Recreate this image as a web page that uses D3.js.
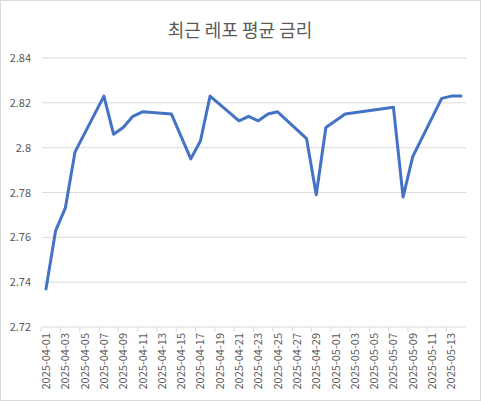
<!DOCTYPE html>
<html><head><meta charset="utf-8">
<script src="https://cdn.jsdelivr.net/npm/d3@7"></script>
<style>body{margin:0;background:#fff}text{font-family:"Noto Sans CJK KR","Liberation Sans",sans-serif}</style>
</head><body><div id="chart"></div>
<script>
const dates = ["2025-04-01","2025-04-02","2025-04-03","2025-04-04","2025-04-07","2025-04-08","2025-04-09","2025-04-10","2025-04-11","2025-04-14","2025-04-16","2025-04-17","2025-04-18","2025-04-21","2025-04-22","2025-04-23","2025-04-24","2025-04-25","2025-04-28","2025-04-29","2025-04-30","2025-05-02","2025-05-07","2025-05-08","2025-05-09","2025-05-12","2025-05-13","2025-05-14"];
const rates = [2.737,2.763,2.773,2.798,2.823,2.806,2.809,2.814,2.816,2.815,2.795,2.803,2.823,2.812,2.814,2.812,2.815,2.816,2.804,2.779,2.809,2.815,2.818,2.778,2.796,2.822,2.823,2.823];
const yTicks = [2.72,2.74,2.76,2.78,2.8,2.82,2.84];

const W = 481, H = 401;
const parse = d3.utcParse("%Y-%m-%d");
const fmt = d3.utcFormat("%Y-%m-%d");
const svg = d3.select("#chart").append("svg").attr("width", W).attr("height", H);
svg.append("rect").attr("x",0.5).attr("y",0.5).attr("width",W-1).attr("height",H-1).attr("fill","#fff").attr("stroke","#d9d9d9");

const x = d3.scaleUtc().domain([parse("2025-04-01"), parse("2025-05-14")]).range([46, 461]);
const y = d3.scaleLinear().domain([2.72, 2.84]).range([327, 58]);

svg.append("text").attr("x", 240).attr("y", 37).attr("text-anchor","middle")
  .attr("font-size", 18).attr("fill","#595959").text("최근 레포 평균 금리");

svg.append("g").selectAll("line").data(yTicks.slice(1)).join("line")
  .attr("x1", 42).attr("x2", 466).attr("y1", d => y(d)).attr("y2", d => y(d))
  .attr("stroke", "#d9d9d9");

svg.append("g").selectAll("text").data(yTicks).join("text")
  .attr("x", 31).attr("y", d => y(d) + 4).attr("text-anchor","end")
  .attr("font-size", 11).attr("fill","#595959").text(d => d3.format(".2~f")(d));

const labelDays = d3.utcDay.range(parse("2025-04-01"), parse("2025-05-15"), 2);
const day = x(parse("2025-04-02")) - x(parse("2025-04-01"));
svg.append("line").attr("x1", 42).attr("x2", 466).attr("y1", 327).attr("y2", 327).attr("stroke","#d9d9d9");
svg.append("g").selectAll("line").data(labelDays).join("line")
  .attr("x1", d => x(d) - day/2).attr("x2", d => x(d) - day/2)
  .attr("y1", 327).attr("y2", 332).attr("stroke","#d9d9d9");
svg.append("g").selectAll("text").data(labelDays).join("text")
  .attr("transform", d => `translate(${x(d)+4},333) rotate(-90)`)
  .attr("text-anchor","end").attr("font-size", 11).attr("fill","#595959").text(d => fmt(d));

const line = d3.line().x((d, i) => x(parse(dates[i]))).y(d => y(d));
svg.append("path").datum(rates).attr("d", line).attr("fill","none")
  .attr("stroke","#4472C4").attr("stroke-width", 3).attr("stroke-linejoin","round").attr("stroke-linecap","round");
</script></body></html>
